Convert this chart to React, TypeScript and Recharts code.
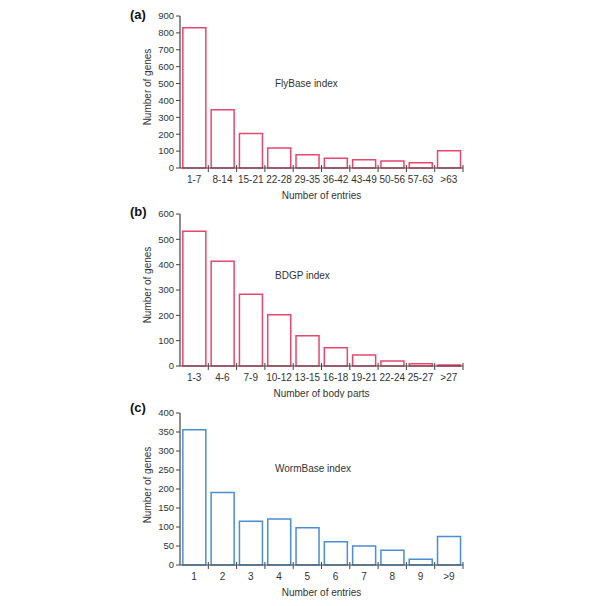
import React from 'react';
import { BarChart, Bar, XAxis, YAxis } from 'recharts';

const flyCategories = ['1-7', '8-14', '15-21', '22-28', '29-35', '36-42', '43-49', '50-56', '57-63', '>63'];
const flyValues = [831, 345, 204, 118, 79, 57, 49, 41, 31, 102];
const flyTicks = [0, 100, 200, 300, 400, 500, 600, 700, 800, 900];

const bdgpCategories = ['1-3', '4-6', '7-9', '10-12', '13-15', '16-18', '19-21', '22-24', '25-27', '>27'];
const bdgpValues = [532, 413, 283, 202, 119, 72, 43, 20, 9, 4];
const bdgpTicks = [0, 100, 200, 300, 400, 500, 600];

const wormCategories = ['1', '2', '3', '4', '5', '6', '7', '8', '9', '>9'];
const wormValues = [356, 191, 115, 121, 98, 61, 50, 39, 15, 75];
const wormTicks = [0, 50, 100, 150, 200, 250, 300, 350, 400];

const RED = '#e8476c';
const BLUE = '#4a8fd4';
const AXIS = '#444';
const TEXT = '#333';
const FONT = 'Arial, "Liberation Sans", Helvetica, sans-serif';

const PLOT_LEFT = 180;
const PLOT_RIGHT = 463;
const N = 10;
const BW = (PLOT_RIGHT - PLOT_LEFT) / N;

const XTick = (props: any) => {
  const { x, y, payload } = props;
  return (
    <g>
      <line x1={x + BW / 2} x2={x + BW / 2} y1={y - 3} y2={y + 4} stroke={AXIS} strokeWidth={1} />
      <text x={x} y={y + 15} textAnchor="middle" fontSize={10} fill={TEXT} fontFamily={FONT}>
        {payload.value}
      </text>
    </g>
  );
};

type PanelProps = {
  top: number;
  categories: string[];
  values: number[];
  ticks: number[];
  color: string;
  xTitle: string;
  letter: string;
  note: string;
  noteY: number;
  labelY: number;
  letterY: number;
};

const Panel = (p: PanelProps) => {
  const data = p.categories.map((c, i) => ({ name: c, value: p.values[i] }));
  const max = p.ticks[p.ticks.length - 1];
  return (
    <div style={{ position: 'absolute', left: 0, top: p.top, width: 600, height: 200 }}>
      <BarChart
        width={600}
        height={200}
        data={data}
        margin={{ top: 16, right: 600 - PLOT_RIGHT, left: 0, bottom: 0 }}
        barCategoryGap="10%"
      >
        <XAxis
          dataKey="name"
          height={32}
          tickSize={0}
          tickMargin={0}
          tickLine={false}
          axisLine={{ stroke: AXIS, strokeWidth: 1.2 }}
          tick={<XTick />}
          interval={0}
          label={{ value: p.xTitle, position: 'insideBottom', offset: 1, fontSize: 10, fill: TEXT, fontFamily: FONT }}
        />
        <YAxis
          width={PLOT_LEFT}
          domain={[0, max]}
          ticks={p.ticks}
          interval={0}
          tickSize={4}
          tickMargin={2}
          axisLine={{ stroke: AXIS, strokeWidth: 1.2 }}
          tickLine={{ stroke: AXIS }}
          tick={{ fontSize: 9.5, fill: TEXT, fontFamily: FONT }}
        />
        <Bar dataKey="value" fill="#ffffff" stroke={p.color} strokeWidth={1.5} isAnimationActive={false} />
      </BarChart>
      <div
        style={{
          position: 'absolute',
          left: 130,
          top: p.letterY - 8,
          fontFamily: FONT,
          fontWeight: 'bold',
          fontSize: 13,
          color: '#111',
          lineHeight: '16px',
        }}
      >
        {p.letter}
      </div>
      <div
        style={{
          position: 'absolute',
          left: 275,
          top: p.noteY - 7,
          fontFamily: FONT,
          fontSize: 10,
          color: TEXT,
          lineHeight: '14px',
          whiteSpace: 'nowrap',
        }}
      >
        {p.note}
      </div>
      <div
        style={{
          position: 'absolute',
          left: 148 - 50,
          top: p.labelY - 7,
          width: 100,
          textAlign: 'center',
          fontFamily: FONT,
          fontSize: 10,
          color: TEXT,
          lineHeight: '14px',
          whiteSpace: 'nowrap',
          transform: 'rotate(-90deg)',
        }}
      >
        Number of genes
      </div>
    </div>
  );
};

export default function App() {
  return (
    <div style={{ position: 'absolute', left: 0, top: 0, width: 600, height: 606, background: '#fff' }}>
      <Panel
        top={0}
        categories={flyCategories}
        values={flyValues}
        ticks={flyTicks}
        color={RED}
        xTitle="Number of entries"
        letter="(a)"
        note="FlyBase index"
        noteY={84}
        labelY={87}
        letterY={15}
      />
      <Panel
        top={198}
        categories={bdgpCategories}
        values={bdgpValues}
        ticks={bdgpTicks}
        color={RED}
        xTitle="Number of body parts"
        letter="(b)"
        note="BDGP index"
        noteY={78}
        labelY={87}
        letterY={14}
      />
      <Panel
        top={397}
        categories={wormCategories}
        values={wormValues}
        ticks={wormTicks}
        color={BLUE}
        xTitle="Number of entries"
        letter="(c)"
        note="WormBase index"
        noteY={72}
        labelY={88}
        letterY={11}
      />
    </div>
  );
}
